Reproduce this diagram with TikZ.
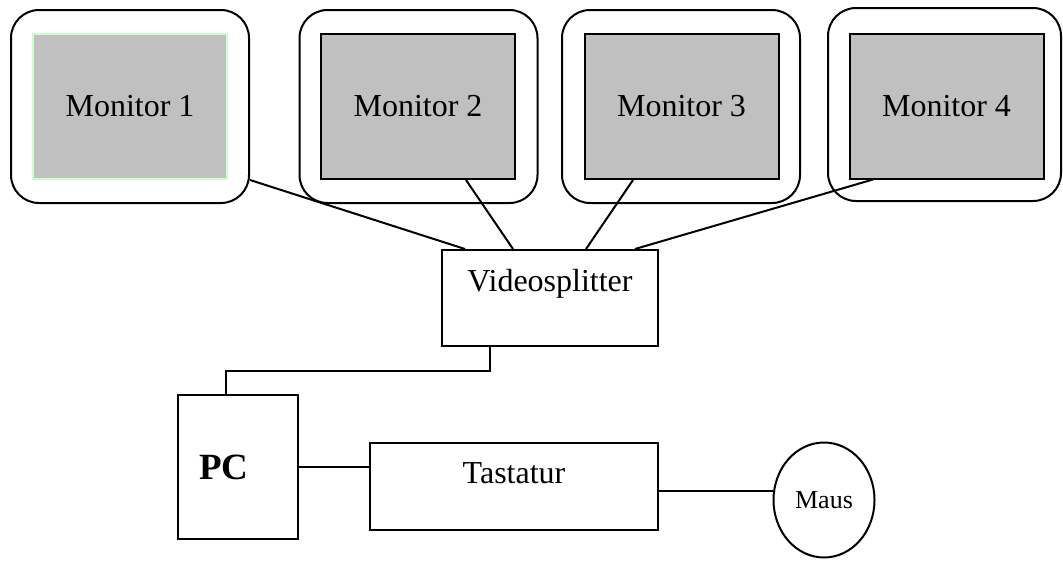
\documentclass[tikz,border=0pt]{standalone}
\usepackage{fontspec}
\setmainfont{Liberation Serif}
\usetikzlibrary{calc}
\usetikzlibrary{shapes.geometric}
\definecolor{screengray}{HTML}{C0C0C0}
\definecolor{palegreen}{HTML}{CCFFCC}

\begin{document}
\begin{tikzpicture}[x=1pt,y=-1pt,line width=2pt,
  every node/.style={font=\fontsize{32}{37}\selectfont},
  monitor/.style={draw,rounded corners=28pt,minimum width=238pt,minimum height=193pt},
  screen/.style={draw,fill=screengray,minimum width=194pt,minimum height=145pt},
  box/.style={draw,rectangle}]

\useasboundingbox (0,0) rectangle (1063,560);

% monitors
\node[monitor] (m1) at (130,106.5) {};
\node[screen,draw=palegreen] (s1) at (130,106.5) {Monitor 1};
\node[monitor] (m2) at (418.5,106.5) {};
\node[screen] (s2) at (418,106.5) {Monitor 2};
\node[monitor] (m3) at (681,106.5) {};
\node[screen] (s3) at (681.5,106.5) {Monitor 3};
\node[monitor,minimum width=233pt] (m4) at (944.5,104.5) {};
\node[screen] (s4) at (946.5,106) {Monitor 4};

% devices
\node[box,minimum width=216pt,minimum height=96pt,text height=22pt,text depth=36pt] (vs) at (550,298) {Videosplitter};
\node[box,minimum width=120pt,minimum height=144pt,text width=78pt,inner xsep=21pt,align=left,
  font=\fontsize{37}{42}\selectfont\bfseries] (pc) at (238,467) {PC};
\node[box,minimum width=288pt,minimum height=87pt,text height=22pt,text depth=29pt] (tast) at (514,486.5) {Tastatur};
\node[draw,ellipse,minimum width=101pt,minimum height=115pt,inner sep=0pt,
  font=\fontsize{26}{30}\selectfont] (maus) at (824,500) {Maus};

% cables
\draw ([yshift=24pt]m1.south east) -- ([xshift=-85pt]vs.north);
\draw ([xshift=48pt]s2.south) -- ([xshift=-37pt]vs.north);
\draw ([xshift=-48.5pt]s3.south) -- ([xshift=36pt]vs.north);
\draw ([xshift=-73.5pt]s4.south) -- ([xshift=85pt]vs.north);
\draw ([xshift=-60pt]vs.south) -- ++(0,24) -| ([xshift=-12pt]pc.north);
\draw (pc.east) -- (pc.east -| tast.west);
\draw (tast.east |- maus.170) -- (maus.170);

\end{tikzpicture}
\end{document}
